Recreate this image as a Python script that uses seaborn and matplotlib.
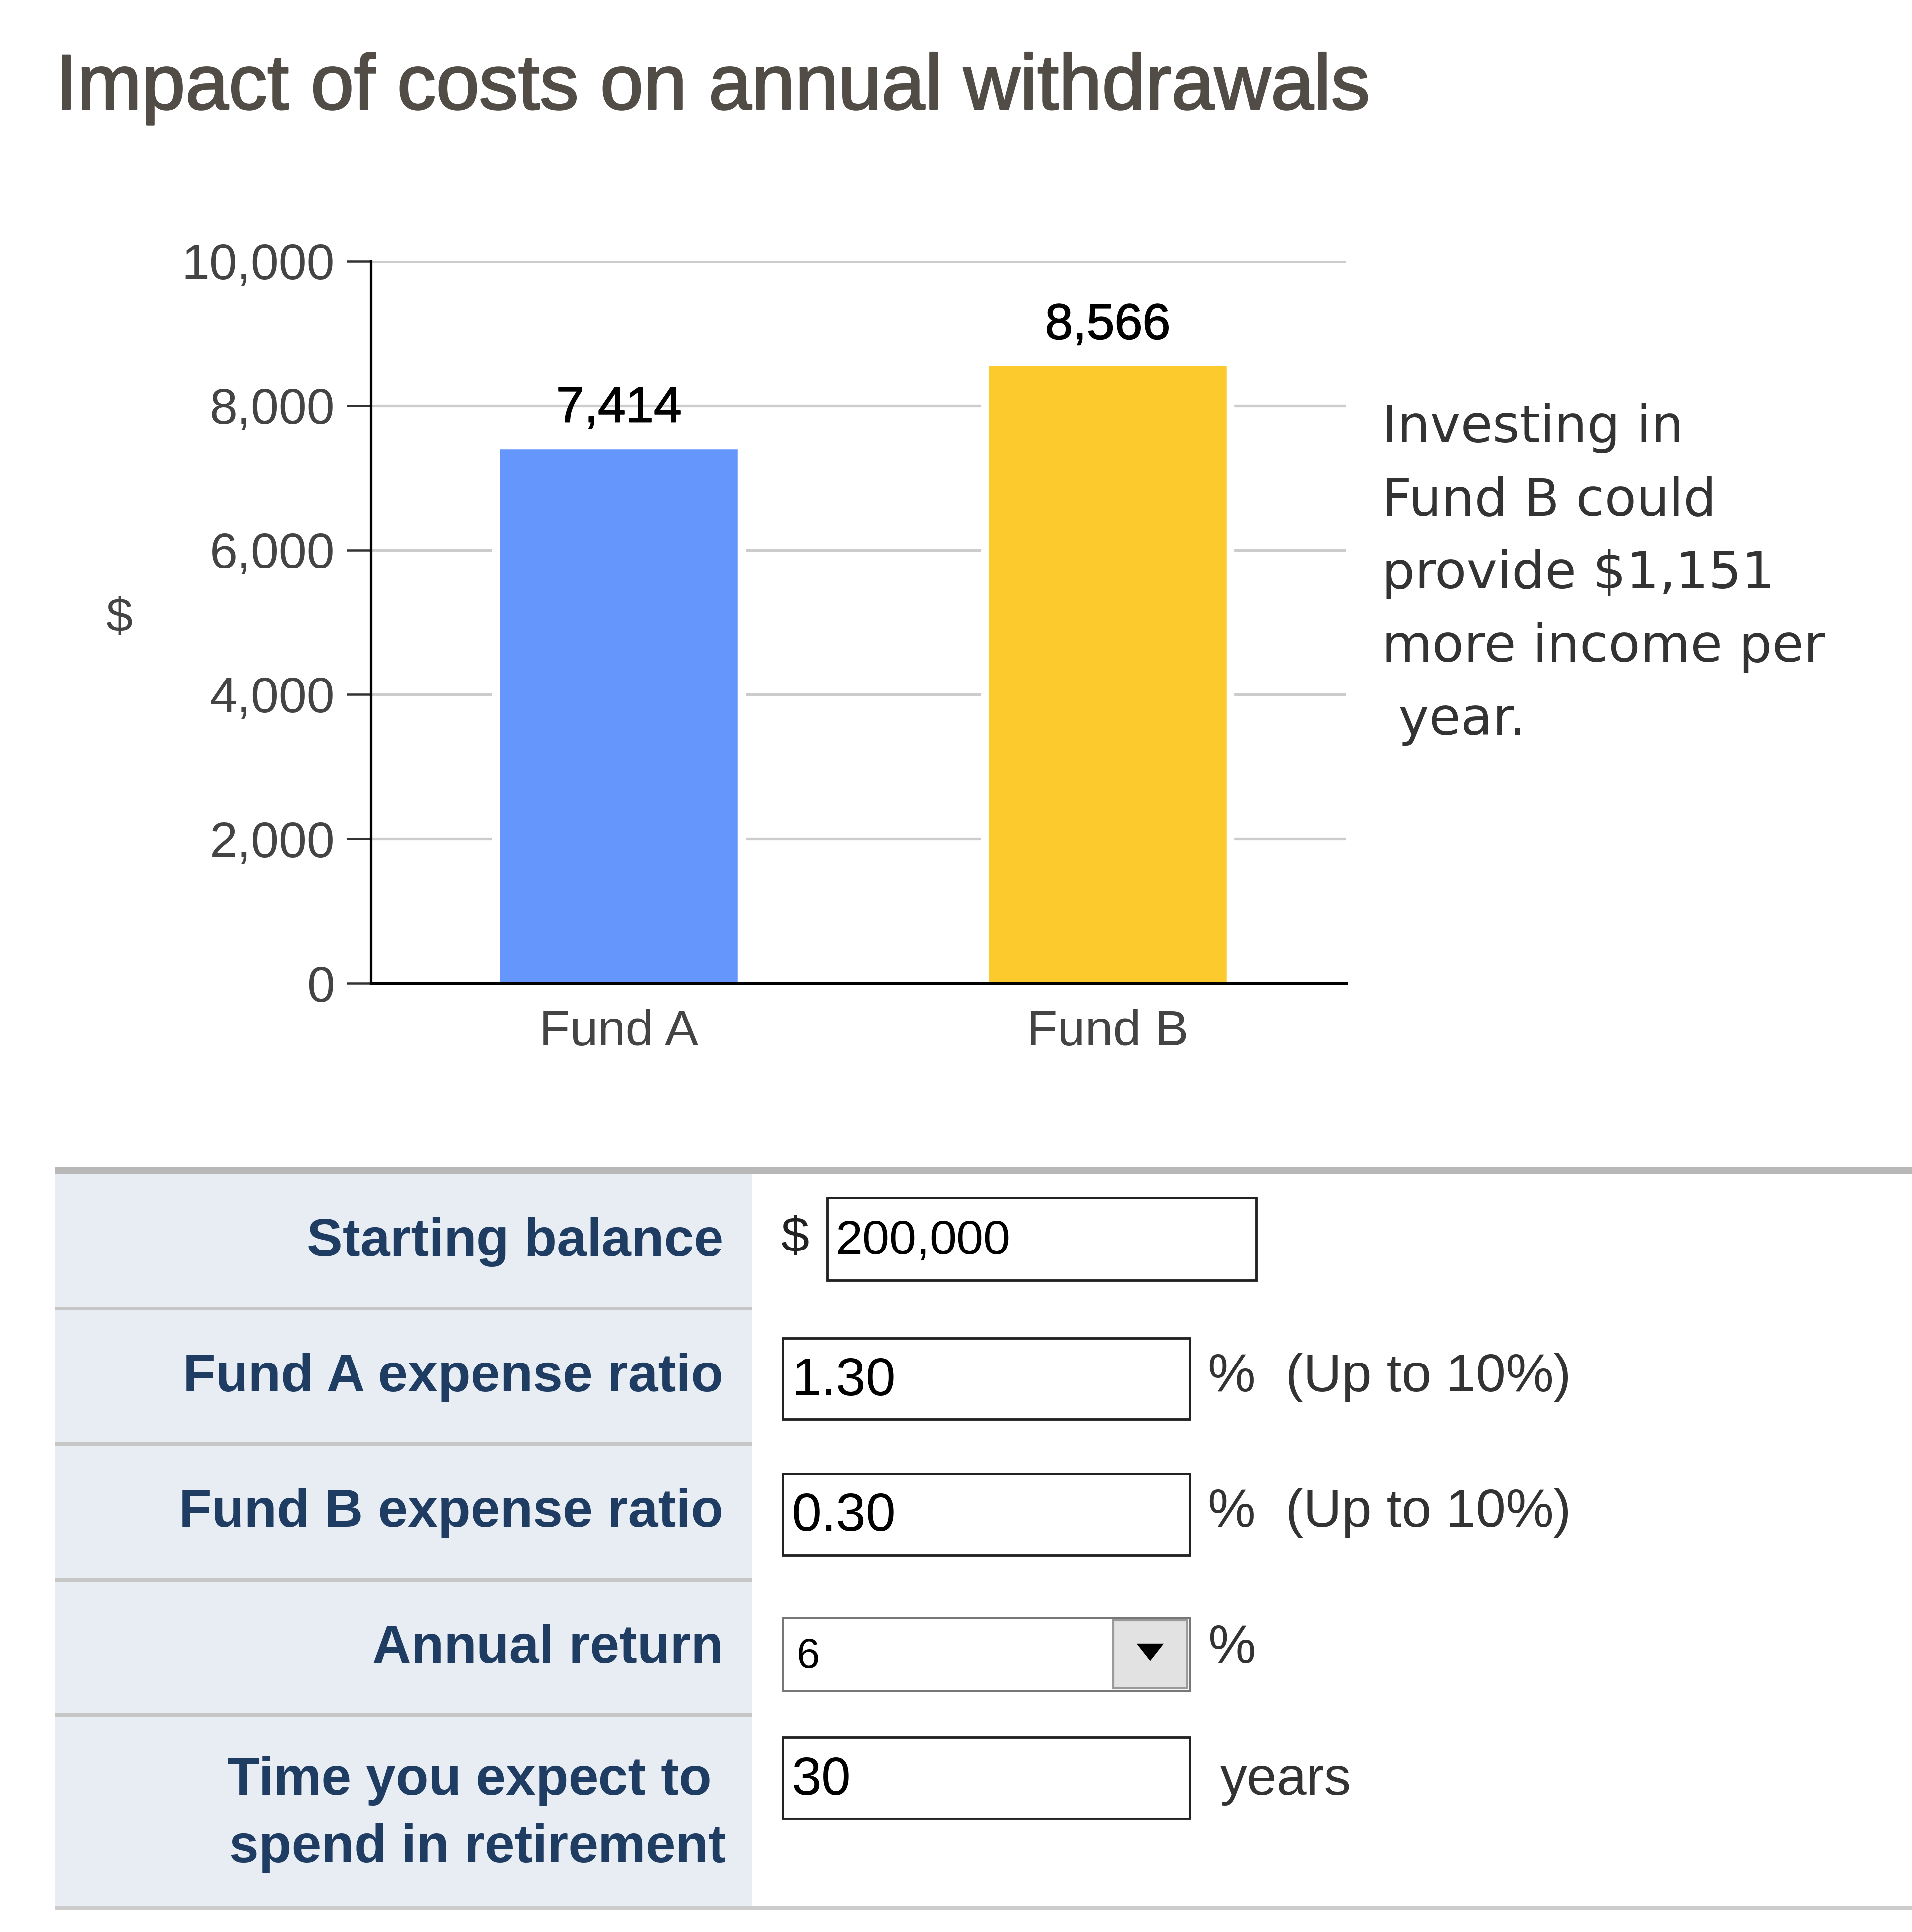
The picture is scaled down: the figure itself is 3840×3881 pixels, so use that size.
import numpy as np
import pandas as pd
import matplotlib
matplotlib.use("Agg")
import matplotlib.pyplot as plt
import matplotlib.patheffects as pe
from matplotlib.patches import Rectangle, Polygon
from matplotlib.ticker import FuncFormatter
import seaborn as sns

# -----------------------------
# DATA
# -----------------------------
funds = ["Fund A", "Fund B"]
withdrawals = [7414, 8566]
bar_colors = ["#6496fc", "#fdca2e"]
y_ticks = [0, 2000, 4000, 6000, 8000, 10000]

title = "Impact of costs on annual withdrawals"
note = "Investing in\nFund B could\nprovide \\$1,151\nmore income per\n year."

form_labels = ["Starting balance", "Fund A expense ratio", "Fund B expense ratio",
               "Annual return"]
form_values = ["200,000", "1.30", "0.30", "6", "30"]
form_units = ["", "%  (Up to 10%)", "%  (Up to 10%)", "%", "years"]

# -----------------------------
# FIGURE
# -----------------------------
sns.set_theme(style="white")
plt.rcParams["font.family"] = ["Liberation Sans", "DejaVu Sans"]

fig = plt.figure(figsize=(15.36, 15.524), dpi=250)
fig.patch.set_facecolor("white")

# overlay in "screen pixels" of a 1551 x 1568 view, for the form part
W, H = 1551, 1568
bg = fig.add_axes([0, 0, 1, 1], zorder=0)
bg.set_xlim(0, W)
bg.set_ylim(H, 0)
bg.axis("off")

ax = fig.add_axes([301 / W, 1 - 798 / H, (1092 - 301) / W, (798 - 212) / H], zorder=2)
ax.set_facecolor("white")

df = pd.DataFrame({"fund": funds, "value": withdrawals})
# white halo behind the bars (breaks the gridlines beside them)
sns.barplot(data=df, x="fund", y="value", color="white", width=0.515,
            saturation=1, ax=ax, zorder=2)
sns.barplot(data=df, x="fund", y="value", hue="fund", palette=bar_colors,
            width=0.49, saturation=1, legend=False, ax=ax, zorder=3)

ax.set_xlim(-0.507, 1.488)
ax.set_ylim(0, 10000)
ax.set_yticks(y_ticks)
ax.yaxis.set_major_formatter(FuncFormatter(lambda v, p: f"{int(v):,}"))
ax.grid(axis="y", color="#cccccc", linewidth=1.5, zorder=0.5)
ax.set_axisbelow(True)
ax.set_xlabel("")
ax.set_ylabel("")

for s in ["top", "right"]:
    ax.spines[s].set_visible(False)
for s in ["left", "bottom"]:
    ax.spines[s].set_color("black")
    ax.spines[s].set_linewidth(1.5)
    ax.spines[s].set_zorder(4)

ax.tick_params(axis="y", length=14, width=1.3, color="#333333", pad=7,
               labelsize=29, labelcolor="#444444", left=True)
ax.tick_params(axis="x", length=0, pad=15, labelsize=29, labelcolor="#444444")

for i, v in enumerate(withdrawals):
    ax.annotate(f"{v:,}", (i, v), xytext=(0, 9), textcoords="offset points",
                ha="center", va="bottom", fontsize=29, color="black",
                path_effects=[pe.withStroke(linewidth=0.5, foreground="black")])

# y label "$"
bg.text(97, 502, "$", ha="center", va="center", fontsize=28, color="#444444")

# title
bg.text(45, 72, title, ha="left", va="center", fontsize=45, color="#524c46",
        path_effects=[pe.withStroke(linewidth=0.9, foreground="#524c46")])

# side note
bg.text(1121, 327, note, ha="left", va="top", fontsize=30, color="#333333",
        family=["DejaVu Sans"], linespacing=1.58)

# -----------------------------
# FORM
# -----------------------------
bg.add_patch(Rectangle((45, 953), 610 - 45, 1548 - 953, facecolor="#e8ecf3",
                       edgecolor="none"))
bg.add_patch(Rectangle((45, 947), W - 45, 6, facecolor="#b8b8b8", edgecolor="none"))
bg.add_patch(Rectangle((45, 1547), W - 45, 3, facecolor="#cccccc", edgecolor="none"))
for y in [1062, 1172, 1282, 1392]:
    bg.add_patch(Rectangle((45, y - 1.5), 610 - 45, 3, facecolor="#c6c6c6",
                           edgecolor="none"))

label_color = "#1f3d63"
for lab, y in zip(form_labels, [1008, 1118, 1228, 1338]):
    bg.text(587, y, lab, ha="right", va="center", fontsize=31, fontweight="bold",
            color=label_color)
bg.text(577, 1445, "Time you expect to", ha="right", va="center", fontsize=31,
        fontweight="bold", color=label_color)
bg.text(589, 1500, "spend in retirement", ha="right", va="center", fontsize=31,
        fontweight="bold", color=label_color)

# input boxes: (x0, x1, y0, y1)
boxes = [(671, 1019, 972, 1039), (635, 965, 1086, 1152), (635, 965, 1196, 1262),
         (635, 965, 1313, 1372), (635, 965, 1410, 1476)]
for k, (x0, x1, y0, y1) in enumerate(boxes):
    edge = "#777777" if k == 3 else "#222222"
    bg.add_patch(Rectangle((x0, y0), x1 - x0, y1 - y0, facecolor="white",
                           edgecolor=edge, linewidth=1.4))
    yc = (y0 + y1) / 2
    size = 28 if k == 0 else (24 if k == 3 else 31)
    bg.text(x0 + 7 if k != 3 else x0 + 11, yc + 2, form_values[k], ha="left",
            va="center", fontsize=size, color="black")

# dropdown button
bg.add_patch(Rectangle((903, 1315), 60, 55, facecolor="#e2e2e2", edgecolor="#9a9a9a",
                       linewidth=1.2))
bg.add_patch(Polygon([[922, 1334], [944, 1334], [933, 1348]], closed=True,
                     facecolor="black", edgecolor="none"))

bg.text(645, 1005, "$", ha="center", va="center", fontsize=29, color="#222222")
for k, (x, y) in enumerate([(0, 0), (980, 1118), (980, 1228), (980, 1338), (990, 1445)]):
    if form_units[k]:
        bg.text(x, y, form_units[k], ha="left", va="center", fontsize=31,
                color="#333333")

plt.savefig("out.png", dpi=250, facecolor="white")
print("Saved out.png")
